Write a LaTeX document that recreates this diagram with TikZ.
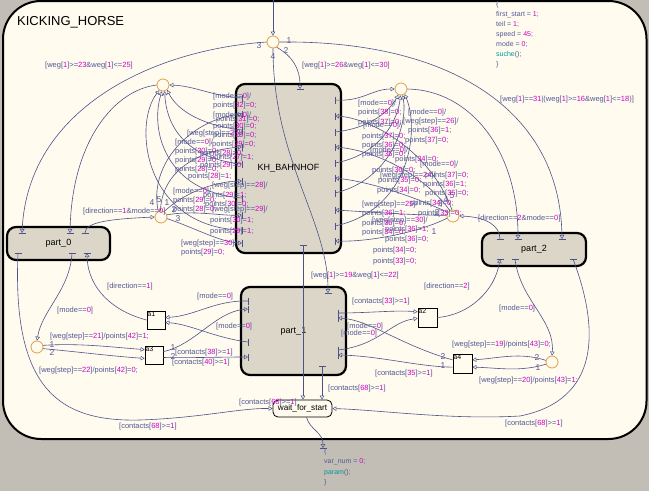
\documentclass[tikz,border=0pt]{standalone}
\usepackage{fontspec}
\setmainfont{Liberation Sans}
\usetikzlibrary{arrows.meta}

\definecolor{bgc}{RGB}{194,190,182}
\definecolor{chartbg}{RGB}{255,251,238}
\definecolor{subbg}{RGB}{220,214,200}
\definecolor{lc}{RGB}{78,82,140}
\definecolor{tc}{RGB}{82,88,150}
\definecolor{nc}{RGB}{205,0,205}
\definecolor{fc}{RGB}{0,150,150}
\definecolor{jc}{RGB}{225,160,70}

\newcommand\nn[1]{\textcolor{nc}{#1}}
\newcommand\fcall[1]{\textcolor{fc}{#1}}
\newcount\labcnt
% transition label (west anchored)
\newcommand\tlab[3]{\global\advance\labcnt by 1
  \node[lbl] (lab\the\labcnt) at (#1,#2) {#3};}
% branch number at a junction
\newcommand\jnum[3]{\global\advance\labcnt by 1
  \node[nlbl] (num\the\labcnt) at (#1,#2) {#3};}
% supertransition stub: bar at (#2,#3), rotated by #4
\newcommand\stubat[4]{\path (#2,#3) coordinate (#1) pic[rotate=#4]{sfbar};}

\tikzset{
  conn/.style={draw=lc, line width=0.6pt},
  arr/.style={conn, -{Triangle[open, length=4pt, width=4.5pt, line width=0.5pt]}},
  lbl/.style={text=tc, font=\fontsize{7.5}{9}\selectfont, inner sep=0pt, anchor=west},
  nlbl/.style={text=tc, font=\fontsize{8.5}{10}\selectfont, inner sep=0pt},
  jn/.style={circle, draw=jc, fill=chartbg, line width=0.8pt, minimum size=12pt, inner sep=0pt},
  sub/.style={draw=black, line width=2.2pt, fill=subbg, rounded corners=9pt,
              font=\fontsize{9}{11}\selectfont, inner sep=0pt},
  abox/.style={draw=black, line width=0.7pt, fill=chartbg, minimum width=18pt,
               minimum height=18pt, inner sep=0pt},
  atxt/.style={font=\fontsize{7}{8}\selectfont, anchor=north west, inner sep=0.6pt},
  sfbar/.pic={\draw[conn] (0,-3.5) -- (0,3.5);}
}

\begin{document}
\begin{tikzpicture}[x=1pt, y=-1pt]
\fill[bgc] (0,0) rectangle (649,491);
\useasboundingbox (0,0) rectangle (649,491);

% chart frame
\node[draw=black, line width=2pt, fill=chartbg, rounded corners=38pt,
      minimum width=643.5pt, minimum height=438pt, inner sep=0pt] (chart) at (324.75,220) {};
\node[anchor=west, inner sep=0pt, font=\fontsize{13}{15}\selectfont] (title) at (17,22) {KICKING\_HORSE};

% entry action of the default transition
\node[anchor=north west, align=left, inner sep=0pt, text=tc, font=\fontsize{7}{10}\selectfont]
  (act) at (496,1) {\{\\first\_start = \nn{1};\\teil = \nn{1};\\speed = \nn{45};\\mode = \nn{0};\\\fcall{suche}();\\\}};
\node[anchor=north west, align=left, inner sep=0pt, text=tc, font=\fontsize{7}{10.5}\selectfont]
  (act2) at (324,448) {\{\\var\_num = \nn{0};\\\fcall{param}();\\\}};

% subcharts
\node[sub, minimum width=105pt, minimum height=169pt] (KH) at (288.5,168.5) {KH\_BAHNHOF};
\node[sub, minimum width=103pt, minimum height=33pt] (P0) at (58.5,243.5) {part\_0};
\node[sub, minimum width=104pt, minimum height=33pt] (P2) at (534,249.5) {part\_2};
\node[sub, minimum width=105pt, minimum height=88pt] (P1) at (293.5,331) {part\_1};
\node[draw=black, line width=0.8pt, fill=chartbg, rounded corners=5pt, minimum width=59pt,
      minimum height=17pt, inner sep=0pt, font=\fontsize{8.2}{10}\selectfont] (WFS) at (302.5,408.5) {wait\_for\_start};

% small states
\node[abox] (A1) at (156,320) {};
\node[atxt] (A1t) at (A1.north west) {a1};
\node[abox] (A3) at (154,355) {};
\node[atxt] (A3t) at (A3.north west) {a3};
\node[abox, minimum width=19pt, minimum height=19pt] (A2) at (427.5,317.5) {};
\node[atxt] (A2t) at (A2.north west) {a2};
\node[abox, minimum width=19pt, minimum height=19pt] (A4) at (462.5,363.5) {};
\node[atxt] (A4t) at (A4.north west) {a4};

% junctions
\node[jn] (JT) at (273,42) {};
\node[jn] (JLU) at (163,85) {};
\node[jn] (JLL) at (161,217) {};
\node[jn] (JRU) at (401,89) {};
\node[jn] (JRL) at (453,216) {};
\node[jn] (JBL) at (37,347) {};
\node[jn] (JBR) at (552,362) {};

% supertransition stubs
\stubat{kt}{300}{89}{90}
\stubat{kb}{303}{245}{90}
\stubat{kla}{242}{98}{0}
\stubat{klb}{242}{114}{0}
\stubat{klc}{242}{130}{0}
\stubat{kld}{242}{147}{0}
\stubat{kle}{242}{164}{0}
\stubat{klf}{242}{181}{0}
\stubat{klg}{242}{198}{0}
\stubat{klh}{242}{215}{0}
\stubat{kli}{242}{230}{0}
\stubat{klk}{242}{243}{0}
\stubat{kra}{335}{100}{0}
\stubat{krb}{335}{116}{0}
\stubat{krc}{335}{132}{0}
\stubat{krd}{335}{147}{0}
\stubat{kre}{335}{163}{0}
\stubat{krf}{335}{178}{0}
\stubat{krg}{335}{193}{0}
\stubat{krh}{335}{210}{0}
\stubat{kri}{335}{226}{0}
\stubat{krk}{335}{241}{0}
\stubat{p0t1}{22}{233}{90}
\stubat{p0t2}{70}{233}{90}
\stubat{p0t3}{85}{233}{90}
\stubat{p0b1}{18}{253}{90}
\stubat{p0b2}{72}{253}{90}
\stubat{p0b3}{87}{253}{90}
\stubat{p2t1}{500}{239}{90}
\stubat{p2t2}{518}{239}{90}
\stubat{p2t3}{562}{239}{90}
\stubat{p2b1}{500}{259}{90}
\stubat{p2b2}{515}{259}{90}
\stubat{p2b3}{573}{259}{90}
\stubat{p1t}{328}{293}{90}
\stubat{p1b}{322}{366}{90}
\stubat{p1l1}{248}{301}{0}
\stubat{p1l2}{248}{309}{0}
\stubat{p1l3}{248}{342}{0}
\stubat{p1l4}{248}{357}{0}
\stubat{p1r1}{338}{313}{0}
\stubat{p1r2}{338}{318}{0}
\stubat{p1r3}{338}{350}{0}
\stubat{p1r4}{338}{355}{0}
\stubat{wb}{323}{448}{90}
\coordinate (dtop) at (273,0);

% default transition and the top junction
\draw[arr] (dtop) -- (JT.north);
\draw[arr] (JT.east) .. controls (450,40) and (560,110) .. (p2t3);
\draw[arr] (JT.-55) .. controls (292,56) and (300,68) .. (kt);
\draw[arr] (JT.west) .. controls (150,50) and (28,110) .. (p0t1);
\draw[arr] (JT.south) .. controls (273,160) and (328,220) .. (p1t);

% left cluster of KH_BAHNHOF
\draw[arr] (JLU.west) .. controls (115,90) and (72,140) .. (p0t2);
\draw[arr] (kla) .. controls (212,96) and (195,86) .. (JLU.east);
\draw[arr] (klc) .. controls (205,126) and (178,112) .. (JLU.-50);
\draw[arr] (kle) .. controls (180,158) and (166,120) .. (JLU.-75);
\draw[arr] (klg) .. controls (165,192) and (150,130) .. (JLU.-100);
\draw[arr] (kli) .. controls (145,228) and (132,125) .. (JLU.-125);
\draw[arr] (p0t3) .. controls (85,222) and (110,219) .. (JLL.west);
\draw[arr] (JLL.115) .. controls (148,165) and (190,120) .. (klb);
\draw[arr] (JLL.95) .. controls (162,170) and (200,150) .. (kld);
\draw[arr] (JLL.60) .. controls (182,195) and (210,182) .. (klf);
\draw[arr] (JLL.20) .. controls (195,210) and (220,216) .. (klh);
\draw[arr] (JLL.-15) .. controls (195,228) and (220,242) .. (klk);

% right cluster of KH_BAHNHOF
\draw[arr] (JRU.east) .. controls (470,90) and (518,150) .. (p2t2);
\draw[arr] (kra) .. controls (362,102) and (372,89) .. (JRU.west);
\draw[arr] (krc) .. controls (372,128) and (390,110) .. (JRU.-115);
\draw[arr] (kre) .. controls (380,155) and (398,120) .. (JRU.-95);
\draw[arr] (krg) .. controls (390,180) and (408,125) .. (JRU.-75);
\draw[arr] (kri) .. controls (410,210) and (420,130) .. (JRU.-55);
\draw[arr] (p2t1) .. controls (500,225) and (485,217) .. (JRL.east);
\draw[arr] (JRL.-160) .. controls (420,232) and (370,242) .. (krk);
\draw[arr] (JRL.175) .. controls (410,215) and (370,212) .. (krh);
\draw[arr] (JRL.145) .. controls (410,195) and (370,182) .. (krf);
\draw[arr] (JRL.120) .. controls (420,170) and (370,150) .. (krd);
\draw[arr] (JRL.100) .. controls (430,150) and (370,118) .. (krb);

% part_0 side
\draw[arr] (p0b2) .. controls (70,290) and (42,310) .. (JBL.north);
\draw[arr] (A1.west) .. controls (115,312) and (88,290) .. (p0b3);
\draw[arr] (JBL.15) .. controls (80,343) and (110,347) .. (A3.150);
\draw[arr] (JBL.-15) .. controls (80,352) and (110,356) .. (A3.200);
\draw[arr] (A3.20) .. controls (195,345) and (215,312) .. (p1l2);
\draw[arr] (A3.-15) .. controls (190,358) and (220,357) .. (p1l4);
\draw[arr] (p1l1) .. controls (215,300) and (195,316) .. (A1.15);
\draw[arr] (p1l3) .. controls (215,338) and (190,324) .. (A1.-15);

% part_2 side
\draw[arr] (p1r1) .. controls (370,313) and (395,310) .. (A2.150);
\draw[arr] (p1r3) .. controls (380,345) and (390,322) .. (A2.185);
\draw[arr] (A4.160) .. controls (400,345) and (370,320) .. (p1r2);
\draw[arr] (A4.200) .. controls (420,367) and (380,356) .. (p1r4);
\draw[arr] (JBR.165) .. controls (520,352) and (500,358) .. (A4.20);
\draw[arr] (JBR.-160) .. controls (520,372) and (500,368) .. (A4.-20);
\draw[arr] (A2.east) .. controls (470,315) and (495,290) .. (p2b1);
\draw[arr] (p2b2) .. controls (520,300) and (555,320) .. (JBR.north);

% into and out of wait_for_start
\draw[arr] (p0b1) .. controls (12,390) and (60,422) .. (140,420) .. controls (200,418) and (240,408) .. (WFS.west);
\draw[arr] (p2b3) .. controls (600,330) and (600,400) .. (520,416) .. controls (450,420) and (380,410) .. (WFS.east);
\draw[arr] (kb) -- (kb |- WFS.north);
\draw[arr] (p1b) -- (p1b |- WFS.north);
\draw[arr] ([xshift=4pt]WFS.south) .. controls (310,430) and (323,432) .. (wb);

% junction branch numbers
\jnum{289}{41}{1}
\jnum{286}{51}{2}
\jnum{259}{46}{3}
\jnum{273}{57}{4}
\jnum{152}{203}{4}
\jnum{159}{200}{5}
\jnum{167}{203}{1}
\jnum{174}{210}{2}
\jnum{178}{219}{3}
\jnum{440}{204}{3}
\jnum{446}{200}{4}
\jnum{452}{196}{5}
\jnum{437}{213}{2}
\jnum{434}{232}{1}
\jnum{52}{345}{1}
\jnum{52}{353}{2}
\jnum{537}{358}{2}
\jnum{538}{368}{1}
\jnum{173}{348}{1}
\jnum{173}{357}{2}
\jnum{443}{357}{2}
\jnum{443}{366}{1}

% guards and actions
\tlab{45}{66}{[weg[\nn{1}]>=\nn{23}\&weg[\nn{1}]<=\nn{25}]}
\tlab{302}{66}{[weg[\nn{1}]>=\nn{26}\&weg[\nn{1}]<=\nn{30}]}
\tlab{500}{100}{[weg[\nn{1}]==\nn{31}|(weg[\nn{1}]>=\nn{16}\&weg[\nn{1}]<=\nn{18})]}
\tlab{83}{212}{[direction==\nn{1}\&mode==\nn{0}]}
\tlab{478}{219}{[direction==\nn{2}\&mode==\nn{0}]}
\tlab{311}{276}{[weg[\nn{1}]>=\nn{19}\&weg[\nn{1}]<=\nn{22}]}
\tlab{107}{287}{[direction==\nn{1}]}
\tlab{424}{287}{[direction==\nn{2}]}
\tlab{57}{311}{[mode==\nn{0}]}
\tlab{197}{297}{[mode==\nn{0}]}
\tlab{216}{327}{[mode==\nn{0}]}
\tlab{50}{337}{[weg[step]==\nn{21}]/points[\nn{42}]=\nn{1};}
\tlab{39}{371}{[weg[step]==\nn{22}]/points[\nn{42}]=\nn{0};}
\tlab{175}{353}{[contacts[\nn{38}]>=\nn{1}]}
\tlab{172}{363}{[contacts[\nn{40}]>=\nn{1}]}
\tlab{119}{427}{[contacts[\nn{68}]>=\nn{1}]}
\tlab{239}{403}{[contacts[\nn{68}]>=\nn{1}]}
\tlab{328}{389}{[contacts[\nn{68}]>=\nn{1}]}
\tlab{352}{302}{[contacts[\nn{33}]>=\nn{1}]}
\tlab{347}{327}{[mode==\nn{0}]}
\tlab{341}{334}{[mode==\nn{0}]}
\tlab{375}{374}{[contacts[\nn{35}]>=\nn{1}]}
\tlab{499}{309}{[mode==\nn{0}]}
\tlab{452}{345}{[weg[step]==\nn{19}]/points[\nn{43}]=\nn{0};}
\tlab{479}{381}{[weg[step]==\nn{20}]/points[\nn{43}]=\nn{1};}
\tlab{505}{424}{[contacts[\nn{68}]>=\nn{1}]}

% guards and actions left of KH_BAHNHOF
\tlab{213}{97}{[mode==\nn{0}]/}
\tlab{213}{106}{points[\nn{32}]=\nn{0};}
\tlab{213}{116}{[mode==\nn{0}]/}
\tlab{216}{120}{points[\nn{31}]=\nn{0};}
\tlab{213}{127}{points[\nn{30}]=\nn{0};}
\tlab{213}{136}{points[\nn{29}]=\nn{0};}
\tlab{187}{134}{[weg[step]==\nn{27}]/}
\tlab{175}{143}{[mode==\nn{0}]/}
\tlab{212}{145}{points[\nn{29}]=\nn{0};}
\tlab{175}{152}{points[\nn{30}]=\nn{0};}
\tlab{200}{154}{points[\nn{28}]=\nn{0};}
\tlab{175}{161}{points[\nn{29}]=\nn{0};}
\tlab{210}{158}{points[\nn{27}]=\nn{1};}
\tlab{175}{170}{points[\nn{28}]=\nn{0};}
\tlab{200}{166}{points[\nn{29}]=\nn{0};}
\tlab{188}{177}{points[\nn{28}]=\nn{1};}
\tlab{212}{186}{[weg[step]==\nn{28}]/}
\tlab{173}{192}{[mode==\nn{0}]/}
\tlab{203}{196}{points[\nn{29}]=\nn{1};}
\tlab{173}{201}{points[\nn{29}]=\nn{0};}
\tlab{205}{205}{points[\nn{30}]=\nn{0};}
\tlab{173}{210}{points[\nn{28}]=\nn{0};}
\tlab{212}{210}{[weg[step]==\nn{29}]/}
\tlab{210}{221}{points[\nn{30}]=\nn{1};}
\tlab{210}{232}{points[\nn{29}]=\nn{1};}
\tlab{181}{244}{[weg[step]==\nn{30}]/}
\tlab{181}{253}{points[\nn{29}]=\nn{0};}

% guards and actions right of KH_BAHNHOF
\tlab{358}{104}{[mode==\nn{0}]/}
\tlab{358}{113}{points[\nn{38}]=\nn{0};}
\tlab{358}{123}{points[\nn{37}]=\nn{0};}
\tlab{363}{126}{[mode==\nn{0}]/}
\tlab{408}{113}{[mode==\nn{0}]/}
\tlab{403}{122}{[weg[step]==\nn{26}]/}
\tlab{408}{131}{points[\nn{36}]=\nn{1};}
\tlab{362}{137}{points[\nn{37}]=\nn{0};}
\tlab{405}{141}{points[\nn{37}]=\nn{0};}
\tlab{362}{146}{points[\nn{36}]=\nn{0};}
\tlab{370}{151}{[mode==\nn{0}]/}
\tlab{362}{155}{points[\nn{35}]=\nn{0};}
\tlab{395}{160}{points[\nn{34}]=\nn{0};}
\tlab{420}{165}{[mode==\nn{0}]/}
\tlab{372}{171}{points[\nn{36}]=\nn{0};}
\tlab{380}{176}{[weg[step]==\nn{24}]/}
\tlab{425}{176}{points[\nn{37}]=\nn{0};}
\tlab{378}{181}{points[\nn{35}]=\nn{0};}
\tlab{423}{185}{points[\nn{36}]=\nn{1};}
\tlab{377}{191}{points[\nn{34}]=\nn{0};}
\tlab{425}{194}{points[\nn{35}]=\nn{0};}
\tlab{410}{204}{points[\nn{34}]=\nn{0};}
\tlab{362}{205}{[weg[step]==\nn{25}]/}
\tlab{418}{214}{points[\nn{33}]=\nn{0};}
\tlab{362}{214}{points[\nn{36}]=\nn{1};}
\tlab{372}{221}{[weg[step]==\nn{30}]/}
\tlab{362}{224}{points[\nn{35}]=\nn{0};}
\tlab{385}{230}{points[\nn{36}]=\nn{1};}
\tlab{362}{233}{points[\nn{34}]=\nn{0};}
\tlab{385}{240}{points[\nn{36}]=\nn{0};}
\tlab{373}{251}{points[\nn{34}]=\nn{0};}
\tlab{373}{262}{points[\nn{33}]=\nn{0};}
\end{tikzpicture}
\end{document}
